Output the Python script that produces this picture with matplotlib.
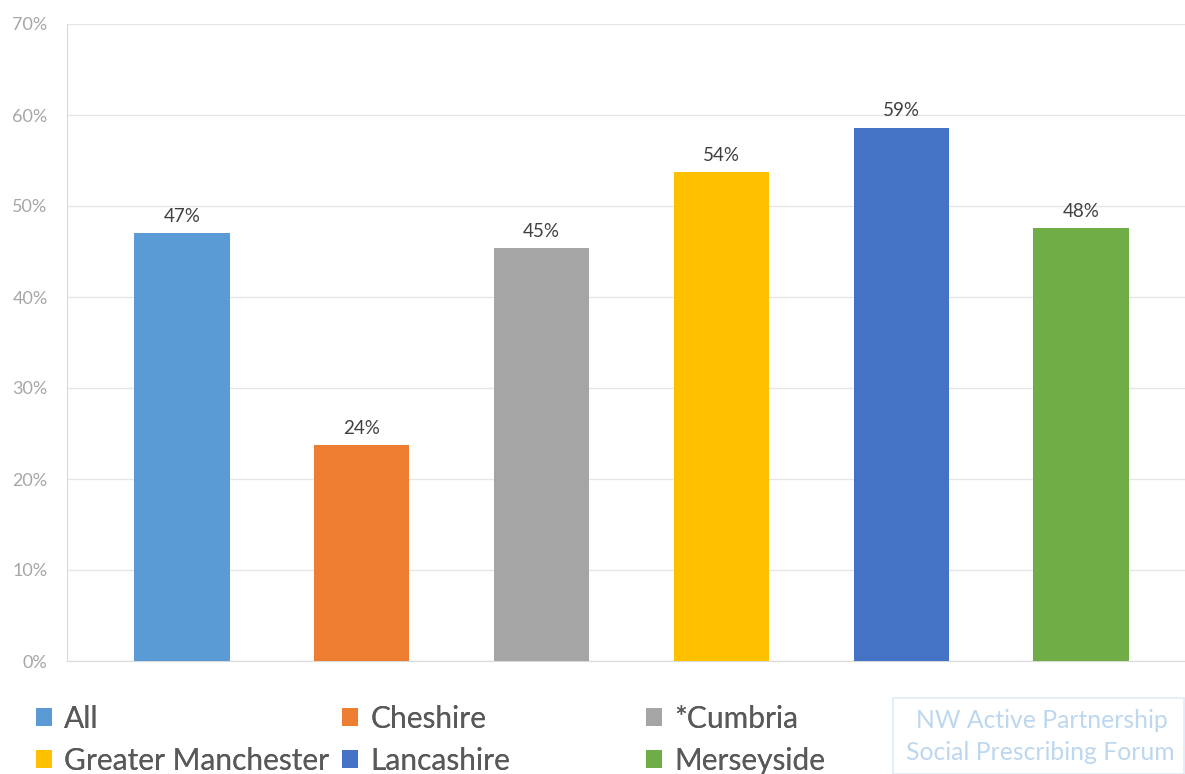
import matplotlib
matplotlib.use("Agg")
import matplotlib.pyplot as plt
from matplotlib.ticker import PercentFormatter

plt.rcParams['font.family'] = ['Lato', 'DejaVu Sans']

# Data
regions = ["All", "Cheshire", "*Cumbria", "Greater Manchester", "Lancashire", "Merseyside"]
values = [47.0, 23.7, 45.4, 53.7, 58.6, 47.6]
colors = ["#5B9BD5", "#ED7D31", "#A5A5A5", "#FFC000", "#4472C4", "#70AD47"]
yticks = [0, 10, 20, 30, 40, 50, 60, 70]

fig = plt.figure(figsize=(11.85, 7.74), dpi=100)
ax = fig.add_axes([67 / 1185, 1 - 661 / 774, 1 - 67 / 1185, 637 / 774])

x = range(len(regions))
bars = ax.bar(x, values, width=0.53, color=colors, label=regions, zorder=3)

for i, v in enumerate(values):
    ax.annotate(f"{v:.0f}%", (i, v), xytext=(0, 6), textcoords="offset points",
                ha="center", va="bottom", fontsize=13.5, color="#404040")

ax.set_xlim(-0.639, 5.578)
ax.set_ylim(0, 70)
ax.set_yticks(yticks)
ax.yaxis.set_major_formatter(PercentFormatter(decimals=0))
ax.set_xticks([])
ax.tick_params(axis="y", length=0, pad=14, labelsize=13, labelcolor="#a6a6a6")
ax.grid(axis="y", color="#e6e6e6", linewidth=1, zorder=0)
for side in ["top", "right"]:
    ax.spines[side].set_visible(False)
ax.spines["left"].set_color("#d9d9d9")
ax.spines["bottom"].set_color("#d9d9d9")

# Legend: three columns, two rows (Excel-style equal column widths)
handles = list(bars)
col_x = [36 / 1185, 342 / 1185, 646 / 1185]
for c in range(3):
    leg = fig.legend([handles[c], handles[c + 3]], [regions[c], regions[c + 3]],
                     loc="upper left", bbox_to_anchor=(col_x[c], 1 - 705 / 774),
                     frameon=False, fontsize=21.5, handlelength=0.55, handleheight=0.55,
                     handletextpad=0.4, labelspacing=0.47, borderaxespad=0, borderpad=0)
    for t in leg.get_texts():
        t.set_color("#595959")
    fig.add_artist(leg)

# Source box
fig.patches.append(plt.Rectangle((893 / 1185, 0), 1 - 893 / 1185 - 0.001, 1 - 698 / 774,
                                 transform=fig.transFigure, fill=False,
                                 edgecolor="#deebf7", linewidth=1.2))
fig.text(1042 / 1185, 1 - 720 / 774, "NW Active Partnership", ha="center", va="center",
         fontsize=17.8, color="#bdd7ee")
fig.text(1040 / 1185, 1 - 752 / 774, "Social Prescribing Forum", ha="center", va="center",
         fontsize=17.8, color="#bdd7ee")

fig.savefig("out.png", dpi=100)
